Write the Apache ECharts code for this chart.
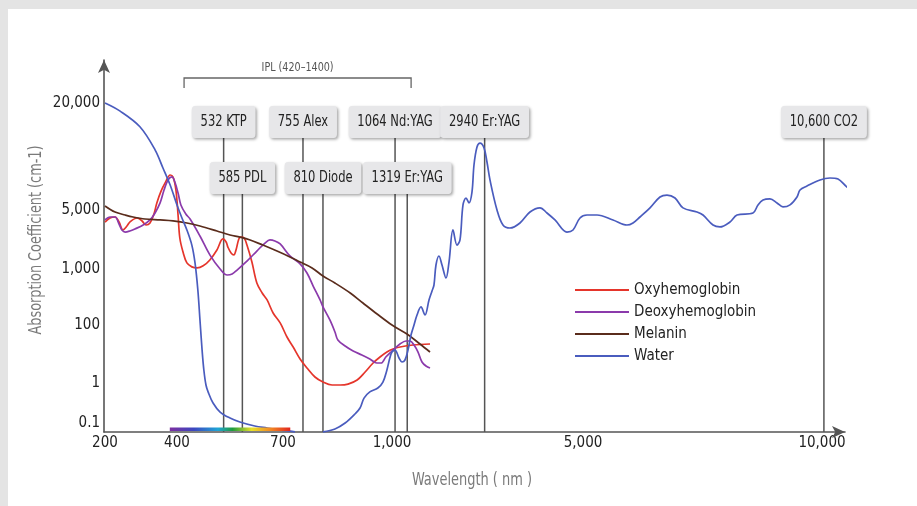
<!DOCTYPE html>
<html><head><meta charset="utf-8">
<script src="https://cdn.jsdelivr.net/npm/echarts@6/dist/echarts.min.js"></script>
<style>html,body{margin:0;padding:0;background:#fff}#c{width:917px;height:506px}</style>
</head><body><div id="c"></div>
<script>
// ---------------- data ----------------
const xTickValues = [200, 400, 700, 1000, 5000, 10000];
const xTickLabels = ['200', '400', '700', '1,000', '5,000', '10,000'];
const yTickValues = [0.1, 1, 100, 1000, 5000, 20000];
const yTickLabels = ['0.1', '1', '100', '1,000', '5,000', '20,000'];

const seriesNames = ['Oxyhemoglobin', 'Deoxyhemoglobin', 'Melanin', 'Water'];

// [wavelength nm, absorption coefficient cm-1]
const oxyData = [[200,3600],[214,4020],[228,4130],[239,3600],[250,2900],[261,3230],[269,3600],[289,4020],[303,3700],[314,3320],[325,3510],[336,4480],[344,5480],[356,6400],[367,7100],[381,7870],[389,7670],[397,6480],[403,4360],[408,2330],[417,1590],[428,1180],[442,1060],[457,1030],[474,1090],[493,1280],[513,1680],[530,2270],[539,2090],[544,1820],[553,1550],[561,1470],[567,1680],[575,2270],[581,2390],[590,2330],[598,1920],[612,1210],[626,562],[641,373],[655,280],[672,164],[692,109],[711,38.6],[728,17.4],[747,6.72],[766,3.29],[788,1.61],[810,1.08],[835,0.89],[857,0.89],[879,0.94],[904,1.27],[926,2.4],[948,4.89],[967,7.88],[986,11.7],[1021,14.9],[1168,17.4],[1440,20.4],[1796,22.1]];

const deoxyData = [[200,3810],[214,4130],[228,4130],[239,3410],[247,2900],[256,2740],[269,2820],[283,2980],[306,3320],[325,3810],[339,4610],[353,5480],[364,6480],[375,7380],[386,7670],[394,7190],[403,6230],[411,5340],[425,4480],[437,3910],[465,2460],[493,1470],[522,1000],[542,781],[556,814],[570,959],[598,1240],[626,1630],[649,2030],[663,2210],[677,2150],[692,1980],[719,1430],[747,1150],[766,848],[783,497],[802,280],[810,210],[829,123],[843,57.4],[851,30.4],[871,18.9],[893,12.7],[917,9.24],[939,6.72],[958,4.89],[970,4.89],[983,7.88],[1000,12.7],[1168,22.1],[1293,28.1],[1377,28.1],[1461,20.4],[1545,11.7],[1628,5.3],[1712,3.86],[1796,3.29]];

const melaninData = [[200,5270],[228,4730],[256,4360],[278,4130],[311,3910],[353,3810],[389,3710],[428,3510],[465,3230],[513,2820],[550,2530],[578,2390],[607,2210],[643,1920],[683,1630],[719,1390],[747,1210],[780,1030],[810,750],[843,562],[885,373],[920,247],[959,157],[1000,100],[1314,48.9],[1586,22.1],[1796,11.7]];

// null = gap where the curve drops below the axis
const waterData = [[200,20000],[242,18000],[297,14700],[339,10900],[361,8620],[381,6910],[400,5340],[414,4020],[428,2900],[442,1920],[451,1180],[459,422],[465,123],[471,13.7],[476,2.81],[482,0.89],[488,0.6],[502,0.316],[522,0.188],[550,0.133],[578,0.106],[620,0.084],[655,0.075],[692,0.067],[733,0.06], null, [810,0.06],[843,0.071],[871,0.1],[898,0.168],[912,0.237],[923,0.42],[939,0.6],[961,0.75],[975,1.08],[986,2.81],[994,7.28],[1000,11.7],[1063,13.7],[1147,7.28],[1209,5.3],[1272,6.21],[1335,13.7],[1398,45.2],[1461,100],[1524,151],[1607,210],[1691,151],[1775,280],[1838,405],[1879,518],[1921,1115],[1984,1426],[2047,1115],[2131,691],[2194,1210],[2277,2900],[2361,1920],[2424,2210],[2487,5340],[2550,5840],[2612,5480],[2675,6310],[2717,8960],[2780,11300],[2843,11900],[2926,11200],[2989,9310],[3052,7380],[3199,5000],[3324,3320],[3471,3060],[3680,3510],[3890,4730],[4099,5140],[4246,4610],[4413,3810],[4664,2740],[4791,2900],[4937,4020],[5084,4360],[5293,4360],[5628,3810],[5920,3320],[6046,3510],[6192,4130],[6402,5140],[6611,5920],[6757,6070],[6925,5840],[7092,5140],[7385,4730],[7510,4360],[7720,3320],[7866,3150],[8075,3610],[8222,4360],[8556,4610],[8661,5340],[8766,5690],[8912,5770],[9059,5480],[9184,5200],[9331,5340],[9477,5920],[9540,6480],[9686,6820],[9958,7380],[10167,7570],[10335,7470],[10523,6730],[10649,6480],[10900,6070]];

const laserLabels = ['532 KTP', '585 PDL', '755 Alex', '810 Diode', '1064 Nd:YAG', '1319 Er:YAG', '2940 Er:YAG', '10,600 CO2'];
// positions of the marker lines as read on the wavelength axis
const laserPositions = [532, 585, 755, 810, 1064, 1319, 2940, 10040];
const iplRange = [420, 1400];
const iplLabel = 'IPL (420\u20131400)';
const visibleRange = [380, 720];

// ---------------- scales (schematic, piecewise as drawn) ----------------
const X_DOMAIN = [200, 400, 700, 1000, 5000, 10000];
const X_RANGE = [1, 73, 179, 288, 479, 718];
const Y_DOMAIN = [-1, 0, 2, 3, Math.log10(5000), Math.log10(20000)];
const Y_RANGE = [9, 49, 107, 163, 222, 329];
function interp(v, d, r) {
  let i = 0;
  if (v <= d[0]) i = 0;
  else if (v >= d[d.length - 1]) i = d.length - 2;
  else { while (v > d[i + 1]) i++; }
  return r[i] + (v - d[i]) * (r[i + 1] - r[i]) / (d[i + 1] - d[i]);
}
const fx = nm => interp(nm, X_DOMAIN, X_RANGE);
const fy = v => interp(Math.log10(v), Y_DOMAIN, Y_RANGE);
const toXY = arr => arr.map(p => p === null ? ['-', '-'] : [fx(p[0]), fy(p[1])]);
function nearestLabel(v, vals, labels) {
  let best = 0, bd = Infinity;
  vals.forEach((t, i) => { const d = Math.abs(t - v); if (d < bd) { bd = d; best = i; } });
  return labels[best];
}

// ---------------- style ----------------
const FONT = "'DejaVu Sans Condensed','Liberation Sans Narrow','Liberation Sans',sans-serif";
const colors = ['#e5352b', '#8b3aab', '#5a2c1c', '#4a5cbe'];
const laserRows = [0, 1, 0, 1, 0, 1, 0, 0];
const axisColor = '#555';
const NARROW = 0.8;

const chart = echarts.init(document.getElementById('c'), null, { renderer: 'canvas' });

const lineSeries = [oxyData, deoxyData, melaninData, waterData].map((d, i) => ({
  name: seriesNames[i], type: 'line', data: toXY(d), symbol: 'none', showSymbol: false,
  smooth: 0.35, clip: false, connectNulls: false, z: 3,
  lineStyle: { color: colors[i], width: 1.7 }, itemStyle: { color: colors[i] }
}));

const option = {
  animation: false,
  backgroundColor: '#fff',
  textStyle: { fontFamily: FONT },
  grid: { left: 104, right: 72, top: 60, bottom: 74, containLabel: false },
  xAxis: {
    type: 'value', min: 0, max: 741,
    axisLine: { show: true, lineStyle: { color: axisColor, width: 1.6 }, symbol: ['none', 'arrow'], symbolSize: [9, 13] },
    axisTick: { show: false }, splitLine: { show: false },
    axisLabel: {
      customValues: xTickValues.map(fx), margin: 4, color: '#222', fontSize: 15, fontFamily: FONT,
      formatter: v => nearestLabel(v, xTickValues.map(fx), xTickLabels)
    }
  },
  yAxis: {
    type: 'value', min: 0, max: 372,
    axisLine: { show: true, lineStyle: { color: axisColor, width: 1.6 }, symbol: ['none', 'arrow'], symbolSize: [9, 13] },
    axisTick: { show: false }, splitLine: { show: false },
    axisLabel: {
      customValues: yTickValues.map(fy), margin: 4, color: '#222', fontSize: 15, fontFamily: FONT,
      formatter: v => nearestLabel(v, yTickValues.map(fy), yTickLabels)
    }
  },
  legend: {
    data: seriesNames, orient: 'vertical', left: 570, top: 276,
    icon: 'rect', itemWidth: 54, itemHeight: 2, itemGap: 4,
    textStyle: { fontSize: 15, lineHeight: 18, color: '#222', fontFamily: FONT }
  },
  graphic: [
    { type: 'rect', shape: { x: 0, y: 0, width: 917, height: 9 }, style: { fill: '#e4e4e4' }, silent: true },
    { type: 'rect', shape: { x: 0, y: 0, width: 8, height: 506 }, style: { fill: '#e4e4e4' }, silent: true },
    { type: 'text', x: 37, y: 240, rotation: Math.PI / 2, scaleX: 0.84,
      style: { text: 'Absorption Coefficient (cm-1)', align: 'center', verticalAlign: 'middle', font: '17px ' + FONT, fill: '#7a7a7a' } },
    { type: 'text', x: 472, y: 480, scaleX: 0.8,
      style: { text: 'Wavelength ( nm )', align: 'center', verticalAlign: 'middle', font: '18px ' + FONT, fill: '#7a7a7a' } }
  ],
  series: [
    {
      type: 'custom', name: 'lasers', coordinateSystem: 'cartesian2d', clip: false, z: 1,
      data: laserPositions.map((nm, i) => [fx(nm), laserRows[i]]),
      renderItem: (params, api) => {
        const p = api.coord([api.value(0), 0]);
        const row = api.value(1);
        const top = row === 0 ? 106 : 162;
        return {
          type: 'group', children: [
            { type: 'line', shape: { x1: p[0], y1: top + 16, x2: p[0], y2: p[1] }, style: { stroke: '#555', lineWidth: 1.5 } },
            { type: 'text', x: p[0], y: top, scaleX: NARROW, style: {
              text: laserLabels[params.dataIndex], align: 'center', verticalAlign: 'top',
              font: '16px ' + FONT, fill: '#222', lineHeight: 19,
              backgroundColor: '#e7e7e9', padding: [6.5, 11], borderRadius: 4,
              shadowBlur: 3, shadowOffsetX: 1.5, shadowOffsetY: 1.5, shadowColor: 'rgba(0,0,0,0.35)'
            } }
          ]
        };
      }
    },
    {
      type: 'custom', name: 'ipl', coordinateSystem: 'cartesian2d', clip: false, z: 1,
      data: [[fx(iplRange[0]), fx(iplRange[1])]],
      renderItem: (params, api) => {
        const a = api.coord([api.value(0), 0]);
        const b = api.coord([api.value(1), 0]);
        return {
          type: 'group', children: [
            { type: 'polyline', shape: { points: [[a[0], 88], [a[0], 78], [b[0], 78], [b[0], 88]] }, style: { stroke: '#666', lineWidth: 1.3, fill: null } },
            { type: 'text', x: (a[0] + b[0]) / 2, y: 68, scaleX: 0.82, style: { text: iplLabel, align: 'center', verticalAlign: 'middle', font: '13px ' + FONT, fill: '#555' } }
          ]
        };
      }
    },
    {
      type: 'custom', name: 'visible', coordinateSystem: 'cartesian2d', clip: false, z: 4,
      data: [[fx(visibleRange[0]), fx(visibleRange[1])]],
      renderItem: (params, api) => {
        const a = api.coord([api.value(0), 0]);
        const b = api.coord([api.value(1), 0]);
        return {
          type: 'rect', shape: { x: a[0], y: a[1] - 4.5, width: b[0] - a[0], height: 3.5 },
          style: { fill: new echarts.graphic.LinearGradient(0, 0, 1, 0, [
            { offset: 0, color: '#7d2fa0' }, { offset: 0.2, color: '#3c47c0' }, { offset: 0.4, color: '#1fa5d6' },
            { offset: 0.52, color: '#1f9c3e' }, { offset: 0.68, color: '#e9e22a' }, { offset: 0.82, color: '#f29224' }, { offset: 1, color: '#e2261f' }
          ]) }
        };
      }
    },
    ...lineSeries
  ]
};
chart.setOption(option);
</script>
</body></html>
